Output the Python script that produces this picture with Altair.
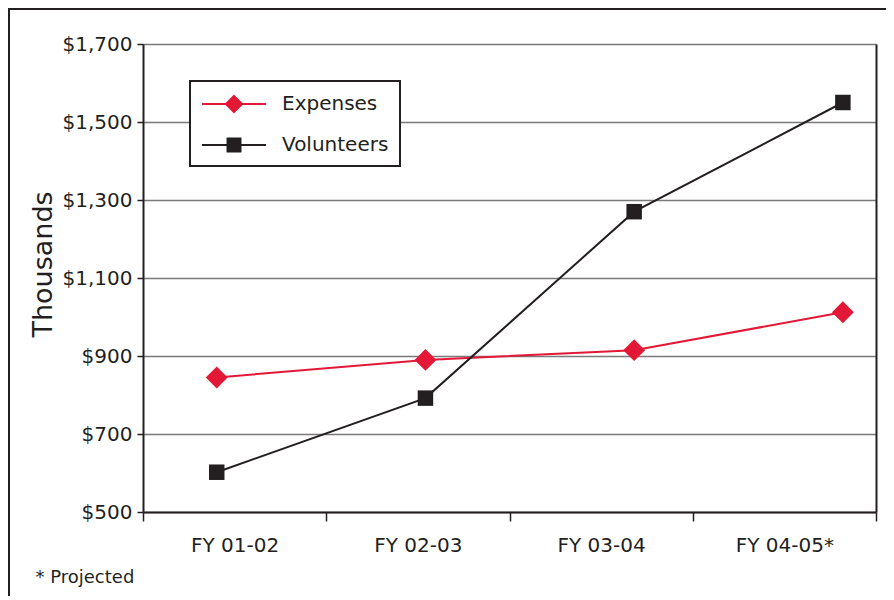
import altair as alt
import pandas as pd

years = ["FY 01-02", "FY 02-03", "FY 03-04", "FY 04-05*"]
expenses = [845, 890, 915, 1012]
volunteers = [602, 792, 1270, 1550]
series_names = ["Expenses", "Volunteers"]
series_colors = ["#e31837", "#231f20"]
y_ticks = [500, 700, 900, 1100, 1300, 1500, 1700]
y_domain = [500, 1700]

rows = []
for yr, e, v in zip(years, expenses, volunteers):
    rows.append({"year": yr, "series": "Expenses", "value": e})
    rows.append({"year": yr, "series": "Volunteers", "value": v})
df = pd.DataFrame(rows)

FONT = "DejaVu Sans"
TXT = "#231f20"

# legend symbols: a short line with the marker on it (unit = 11 px)
path_exp = ("M-1,-0.09L4.82,-0.09L4.82,0.09L-1,0.09Z "
            "M1.91,-0.86L2.77,0L1.91,0.86L1.05,0Z")
path_vol = ("M-1,-0.09L4.82,-0.09L4.82,0.09L-1,0.09Z "
            "M1.23,-0.68L2.59,-0.68L2.59,0.68L1.23,0.68Z")

y_scale = alt.Scale(domain=y_domain, nice=False, zero=False)
x_point = alt.X("year:N", sort=years,
                scale=alt.Scale(type="point", domain=years, padding=0.256, align=0.69),
                axis=None)
y_plain = alt.Y("value:Q", scale=y_scale, axis=None)
color_enc = alt.Color("series:N", scale=alt.Scale(domain=series_names, range=series_colors), legend=None)

frame = alt.Chart(pd.DataFrame({"a": [0]})).mark_rect(
    fillOpacity=0, stroke=TXT, strokeWidth=2
).encode(
    x=alt.value(-134), x2=alt.value(744), y=alt.value(-35), y2=alt.value(700)
)

axes_left = alt.Chart(df).mark_point(opacity=0).encode(
    x=alt.X("year:N", sort=years,
            scale=alt.Scale(type="band", domain=years, paddingInner=0, paddingOuter=0),
            axis=alt.Axis(title="* Projected", titleX=-108, titleY=70, titleAlign="left",
                          titleBaseline="alphabetic", titleFont=FONT, titleFontSize=18,
                          titleFontWeight="normal", titleColor=TXT,
                          tickBand="extent", labelAngle=0, labelFont=FONT,
                          labelFontSize=20, labelColor=TXT, labelPadding=14,
                          domainColor=TXT, domainWidth=2, tickColor=TXT, tickSize=9,
                          tickWidth=1.5, grid=False)),
    y=alt.Y("value:Q", scale=y_scale,
            axis=alt.Axis(values=y_ticks, format="$,.0f", title="Thousands",
                          labelFont=FONT, labelFontSize=20, labelColor=TXT, labelPadding=5,
                          domainColor=TXT, domainWidth=2, tickColor=TXT, tickSize=6,
                          tickWidth=1.5, grid=True, gridColor="#7a7a7a", gridWidth=1.3,
                          titleFont=FONT, titleFontSize=27, titleFontWeight="normal",
                          titleColor=TXT, titlePadding=5, titleY=220)),
)

axis_right = alt.Chart(df).mark_point(opacity=0).encode(
    x=alt.X("year:N", sort=years, axis=None),
    y=alt.Y("value:Q", scale=y_scale,
            axis=alt.Axis(orient="right", labels=False, ticks=False, grid=False, title=None,
                          domainColor=TXT, domainWidth=2)),
)

lines = alt.Chart(df).mark_line(strokeWidth=2).encode(
    x=x_point, y=y_plain, color=color_enc, detail="series:N"
)

points = alt.Chart(df).mark_point(filled=True, opacity=1).encode(
    x=x_point, y=y_plain, color=color_enc,
    shape=alt.Shape("series:N", scale=alt.Scale(domain=series_names, range=["diamond", "square"]), legend=None),
    size=alt.Size("series:N", scale=alt.Scale(domain=series_names, range=[480, 240]), legend=None),
)

leg_props = dict(title=None, orient="none", legendX=47, legendY=37, strokeColor=TXT,
                 fillColor="white", padding=11, labelFont=FONT, labelFontSize=20,
                 labelColor=TXT, labelOffset=57, symbolSize=484, rowPadding=19)

legend_layer = alt.Chart(df).transform_filter("false").mark_point(filled=True, opacity=1).encode(
    x=x_point, y=y_plain,
    color=alt.Color("series:N", scale=alt.Scale(domain=series_names, range=series_colors),
                    legend=alt.Legend(**leg_props)),
    shape=alt.Shape("series:N", scale=alt.Scale(domain=series_names, range=[path_exp, path_vol]),
                    legend=alt.Legend(**leg_props)),
)

chart = alt.layer(frame, axes_left, axis_right, lines, points, legend_layer).resolve_scale(
    x="independent", y="independent", color="independent", shape="independent"
).properties(
    width=733, height=468,
    autosize=alt.AutoSizeParams(type="none"),
    padding={"left": 135, "top": 36, "right": 10, "bottom": 84},
    background="white",
).configure_view(stroke="transparent").configure_legend(strokeWidth=2)

chart.save("out.html", embed_options={"renderer": "svg", "actions": False})
